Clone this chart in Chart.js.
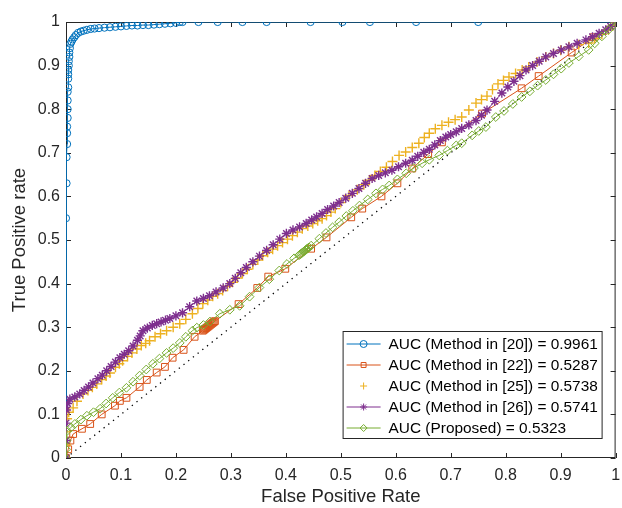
<!DOCTYPE html>
<html lang="en">
<head>
<meta charset="UTF-8">
<title>ROC curves</title>
<script src="https://cdn.jsdelivr.net/npm/chart.js"></script>
<style>
  html, body { margin: 0; padding: 0; background: #fff; }
  #box { width: 622px; height: 508px; }
</style>
</head>
<body>
<div id="box"><canvas id="roc"></canvas></div>
<script>
// legend texts
const seriesNames = [
  'AUC (Method in [20]) = 0.9961',
  'AUC (Method in [22]) = 0.5287',
  'AUC (Method in [25]) = 0.5738',
  'AUC (Method in [26]) = 0.5741',
  'AUC (Proposed) = 0.5323'
];

// Method [20]
const fpr20 = [0, 0, 0.001, 0.001, 0.002, 0.002, 0.002, 0.003, 0.003, 0.003, 0.003, 0.004, 0.004, 0.004, 0.004, 0.005, 0.005,
  0.006, 0.006, 0.007, 0.008, 0.01, 0.012, 0.015, 0.018, 0.022, 0.027, 0.032, 0.038, 0.045, 0.052, 0.06, 0.07, 0.08, 0.09,
  0.1, 0.11, 0.12, 0.13, 0.14, 0.15, 0.16, 0.17, 0.18, 0.19, 0.2, 0.207, 0.212, 0.241, 0.276, 0.321, 0.365, 0.445, 0.503,
  0.553, 0.637, 0.75, 1];
const tpr20 = [0, 0.55, 0.63, 0.69, 0.72, 0.745, 0.76, 0.78, 0.8, 0.82, 0.84, 0.85, 0.87, 0.88, 0.89, 0.9, 0.91,
  0.92, 0.93, 0.94, 0.95, 0.955, 0.96, 0.965, 0.97, 0.975, 0.978, 0.98, 0.982, 0.984, 0.985, 0.986, 0.987, 0.988, 0.989,
  0.99, 0.991, 0.992, 0.992, 0.993, 0.993, 0.994, 0.995, 0.996, 0.997, 0.998, 1, 1, 1, 1, 1, 1, 1, 1,
  1, 1, 1, 1];

// Method [22]
const fpr22 = [0, 0.004, 0.008, 0.013, 0.029, 0.044, 0.065, 0.089, 0.098, 0.11, 0.134, 0.147, 0.165, 0.18, 0.194, 0.214,
  0.234, 0.249, 0.251, 0.253, 0.255, 0.257, 0.259, 0.261, 0.263, 0.265, 0.267, 0.269, 0.271, 0.314, 0.348, 0.368, 0.399,
  0.446, 0.474, 0.519, 0.539, 0.574, 0.603, 0.63, 0.659, 0.684, 0.757, 0.829, 0.86, 0.92, 0.96, 1];
const tpr22 = [0, 0.02, 0.04, 0.055, 0.067, 0.078, 0.1, 0.12, 0.131, 0.138, 0.163, 0.179, 0.196, 0.209, 0.23, 0.248,
  0.278, 0.292, 0.294, 0.296, 0.298, 0.3, 0.302, 0.304, 0.306, 0.308, 0.31, 0.312, 0.314, 0.353, 0.39, 0.416, 0.434,
  0.48, 0.506, 0.552, 0.572, 0.6, 0.63, 0.664, 0.697, 0.724, 0.79, 0.848, 0.876, 0.93, 0.965, 1];

// Method [25]
const fpr25 = [0, 0, 0, 0.002, 0.005, 0.013, 0.02, 0.031, 0.04, 0.048, 0.056, 0.065, 0.073, 0.08, 0.09, 0.097, 0.103,
  0.112, 0.12, 0.129, 0.137, 0.145, 0.152, 0.162, 0.172, 0.183, 0.195, 0.207, 0.218, 0.23, 0.24, 0.249, 0.258, 0.267,
  0.276, 0.285, 0.294, 0.303, 0.312, 0.321, 0.33, 0.34, 0.349, 0.358, 0.367, 0.376, 0.385, 0.394, 0.403, 0.412, 0.421,
  0.43, 0.44, 0.449, 0.458, 0.466, 0.474, 0.482, 0.49, 0.5, 0.515, 0.53, 0.542, 0.552, 0.562, 0.572, 0.583, 0.594, 0.606,
  0.618, 0.63, 0.642, 0.652, 0.661, 0.672, 0.684, 0.696, 0.708, 0.72, 0.733, 0.746, 0.756, 0.766, 0.776, 0.786, 0.796,
  0.806, 0.818, 0.83, 0.842, 0.857, 0.873, 0.887, 0.9, 0.915, 0.933, 0.951, 0.962, 0.975, 0.987, 0.995, 1];
const tpr25 = [0, 0.03, 0.06, 0.09, 0.105, 0.115, 0.13, 0.147, 0.155, 0.162, 0.17, 0.18, 0.188, 0.195, 0.208, 0.216, 0.223,
  0.233, 0.241, 0.25, 0.258, 0.263, 0.269, 0.278, 0.285, 0.292, 0.3, 0.308, 0.318, 0.331, 0.343, 0.354, 0.362, 0.371,
  0.377, 0.384, 0.394, 0.403, 0.413, 0.423, 0.433, 0.444, 0.454, 0.464, 0.472, 0.479, 0.487, 0.494, 0.502, 0.51, 0.518,
  0.526, 0.532, 0.538, 0.544, 0.549, 0.556, 0.564, 0.572, 0.586, 0.602, 0.615, 0.627, 0.637, 0.648, 0.657, 0.667, 0.68, 0.694,
  0.702, 0.712, 0.722, 0.735, 0.745, 0.755, 0.763, 0.77, 0.776, 0.782, 0.798, 0.814, 0.822, 0.83, 0.845, 0.858, 0.866,
  0.874, 0.882, 0.89, 0.897, 0.908, 0.92, 0.928, 0.935, 0.943, 0.948, 0.952, 0.962, 0.972, 0.982, 0.992, 1];

// Method [26]
const fpr26 = [0, 0, 0, 0.001, 0.003, 0.007, 0.016, 0.025, 0.033, 0.041, 0.049, 0.058, 0.066, 0.074, 0.082, 0.09, 0.098,
  0.106, 0.114, 0.122, 0.13, 0.135, 0.14, 0.148, 0.157, 0.165, 0.173, 0.181, 0.189, 0.2, 0.212, 0.225, 0.238, 0.25, 0.261,
  0.273, 0.286, 0.298, 0.308, 0.318, 0.328, 0.34, 0.352, 0.365, 0.377, 0.389, 0.401, 0.413, 0.425, 0.437, 0.447, 0.456,
  0.466, 0.476, 0.487, 0.497, 0.509, 0.521, 0.533, 0.545, 0.557, 0.569, 0.581, 0.593, 0.605, 0.618, 0.63, 0.64, 0.651,
  0.661, 0.671, 0.681, 0.691, 0.7, 0.71, 0.72, 0.733, 0.746, 0.756, 0.766, 0.78, 0.793, 0.804, 0.815, 0.826, 0.837, 0.849,
  0.861, 0.873, 0.887, 0.901, 0.915, 0.93, 0.946, 0.958, 0.97, 0.982, 0.991, 1];
const tpr26 = [0, 0.04, 0.08, 0.11, 0.125, 0.135, 0.14, 0.147, 0.155, 0.163, 0.172, 0.182, 0.19, 0.2, 0.21, 0.22, 0.23,
  0.238, 0.246, 0.257, 0.27, 0.28, 0.292, 0.298, 0.304, 0.308, 0.312, 0.316, 0.32, 0.326, 0.333, 0.347, 0.36, 0.366, 0.372,
  0.381, 0.39, 0.4, 0.412, 0.425, 0.437, 0.45, 0.463, 0.476, 0.489, 0.502, 0.515, 0.523, 0.53, 0.538, 0.546, 0.553,
  0.561, 0.57, 0.578, 0.586, 0.596, 0.607, 0.618, 0.63, 0.641, 0.648, 0.654, 0.66, 0.668, 0.676, 0.683, 0.692, 0.701,
  0.708, 0.718, 0.728, 0.736, 0.742, 0.748, 0.756, 0.764, 0.774, 0.786, 0.798, 0.818, 0.837, 0.851, 0.864, 0.877, 0.89, 0.9,
  0.91, 0.92, 0.928, 0.936, 0.943, 0.951, 0.959, 0.966, 0.974, 0.982, 0.99, 1];

// Proposed
const fprProp = [0, 0, 0.001, 0.002, 0.009, 0.016, 0.027, 0.038, 0.05, 0.062, 0.073, 0.085, 0.097, 0.11, 0.122, 0.134,
  0.146, 0.158, 0.17, 0.183, 0.195, 0.207, 0.218, 0.23, 0.238, 0.25, 0.262, 0.28, 0.298, 0.316, 0.334, 0.352, 0.37, 0.388,
  0.402, 0.415, 0.424, 0.426, 0.428, 0.43, 0.432, 0.434, 0.436, 0.438, 0.44, 0.442, 0.446, 0.461, 0.473, 0.485, 0.497,
  0.51, 0.522, 0.534, 0.549, 0.564, 0.576, 0.588, 0.603, 0.619, 0.633, 0.648, 0.661, 0.679, 0.694, 0.71, 0.72, 0.739,
  0.751, 0.764, 0.782, 0.797, 0.813, 0.829, 0.844, 0.858, 0.873, 0.887, 0.901, 0.915, 0.933, 0.951, 0.962, 0.975, 0.987,
  0.995, 1];
const tprProp = [0, 0.02, 0.04, 0.062, 0.07, 0.078, 0.088, 0.097, 0.105, 0.113, 0.125, 0.138, 0.15, 0.161, 0.175, 0.189,
  0.203, 0.216, 0.228, 0.241, 0.252, 0.264, 0.278, 0.292, 0.299, 0.305, 0.313, 0.331, 0.34, 0.349, 0.37, 0.391, 0.41, 0.43,
  0.445, 0.458, 0.465, 0.467, 0.469, 0.471, 0.473, 0.475, 0.477, 0.479, 0.481, 0.483, 0.487, 0.503, 0.516, 0.529, 0.541,
  0.555, 0.567, 0.579, 0.593, 0.607, 0.616, 0.625, 0.639, 0.653, 0.665, 0.676, 0.684, 0.694, 0.705, 0.717, 0.722, 0.74,
  0.75, 0.759, 0.782, 0.796, 0.812, 0.828, 0.841, 0.854, 0.867, 0.88, 0.893, 0.906, 0.921, 0.936, 0.951, 0.967, 0.982,
  0.992, 1];

// chance line
const chanceX = [0, 1];
const chanceY = [0, 1];

function pts(xs, ys) {
  return xs.map((v, i) => ({ x: v, y: ys[i] }));
}

const fontFam = '"Liberation Sans", Arial, Helvetica, sans-serif';
const axisInk = '#262626';

const datasets = [
  { label: seriesNames[0], data: pts(fpr20, tpr20), borderColor: '#0072BD', pointStyle: 'circle', pointRadius: 3.6,
    showLine: true, order: 5 },
  { label: seriesNames[1], data: pts(fpr22, tpr22), borderColor: '#D95319', pointStyle: 'rect', pointRadius: 4.8,
    showLine: true, order: 4 },
  { label: seriesNames[2], data: pts(fpr25, tpr25), borderColor: '#EDB120', pointStyle: 'cross', pointRadius: 5,
    showLine: false, order: 3 },
  { label: seriesNames[3], data: pts(fpr26, tpr26), borderColor: '#7E2F8E', pointStyle: 'star', pointRadius: 4.6,
    showLine: true, order: 2 },
  { label: seriesNames[4], data: pts(fprProp, tprProp), borderColor: '#77AC30', pointStyle: 'rectRot', pointRadius: 4.4,
    showLine: true, order: 1 }
];
datasets.forEach(d => {
  d.backgroundColor = 'rgba(0,0,0,0)';
  d.pointBorderColor = d.borderColor;
  d.pointBorderWidth = (d.pointStyle === 'star' || d.pointStyle === 'cross') ? 1.4 : 1;
  d.borderWidth = 1;
  d.tension = 0;
});
datasets.push({
  label: 'chance', data: pts(chanceX, chanceY), showLine: true, borderColor: '#000', borderWidth: 1.3,
  borderDash: [1.3, 4.7], pointRadius: 0, order: 6
});

// box + inward ticks (matlab style)
const framePlugin = {
  id: 'frame',
  beforeDatasetsDraw(chart) {
    const { ctx, chartArea: a, scales } = chart;
    ctx.save();
    ctx.strokeStyle = axisInk;
    ctx.lineWidth = 1;
    ctx.strokeRect(a.left + 0.5, a.top + 0.5, a.right - a.left - 1, a.bottom - a.top - 1);
    ctx.beginPath();
    scales.x.ticks.forEach(t => {
      const px = Math.round(scales.x.getPixelForValue(t.value)) + 0.5;
      ctx.moveTo(px, a.bottom); ctx.lineTo(px, a.bottom - 5);
      ctx.moveTo(px, a.top); ctx.lineTo(px, a.top + 5);
    });
    scales.y.ticks.forEach(t => {
      const py = Math.round(scales.y.getPixelForValue(t.value)) + 0.5;
      ctx.moveTo(a.left, py); ctx.lineTo(a.left + 5, py);
      ctx.moveTo(a.right, py); ctx.lineTo(a.right - 5, py);
    });
    ctx.stroke();
    ctx.restore();
  }
};

function drawMarker(ctx, style, x, y, r) {
  ctx.beginPath();
  if (style === 'circle') {
    ctx.arc(x, y, r, 0, Math.PI * 2);
  } else if (style === 'rect') {
    const s = r * Math.SQRT1_2;
    ctx.rect(x - s, y - s, 2 * s, 2 * s);
  } else if (style === 'rectRot') {
    ctx.moveTo(x, y - r); ctx.lineTo(x + r, y); ctx.lineTo(x, y + r); ctx.lineTo(x - r, y); ctx.closePath();
  } else if (style === 'cross') {
    ctx.moveTo(x - r, y); ctx.lineTo(x + r, y); ctx.moveTo(x, y - r); ctx.lineTo(x, y + r);
  } else if (style === 'star') {
    const s = r * Math.SQRT1_2;
    ctx.moveTo(x - r, y); ctx.lineTo(x + r, y); ctx.moveTo(x, y - r); ctx.lineTo(x, y + r);
    ctx.moveTo(x - s, y - s); ctx.lineTo(x + s, y + s); ctx.moveTo(x - s, y + s); ctx.lineTo(x + s, y - s);
  }
  ctx.stroke();
}

// legend in lower right corner, line + marker like matlab
const legendPlugin = {
  id: 'roclegend',
  afterDraw(chart) {
    const { ctx, chartArea: a } = chart;
    const w = 259, h = 107;
    const x0 = a.right - 14 - w, y0 = a.bottom - 20 - h;
    ctx.save();
    ctx.fillStyle = '#fff';
    ctx.fillRect(x0, y0, w, h);
    ctx.strokeStyle = axisInk;
    ctx.lineWidth = 1;
    ctx.strokeRect(x0 + 0.5, y0 + 0.5, w, h);
    ctx.font = '15.4px ' + fontFam;
    ctx.textBaseline = 'middle';
    ctx.textAlign = 'left';
    for (let i = 0; i < 5; i++) {
      const d = chart.data.datasets[i];
      const cy = y0 + 13 + i * 21;
      ctx.strokeStyle = d.borderColor;
      ctx.lineWidth = 1;
      if (d.showLine) {
        ctx.beginPath();
        ctx.moveTo(x0 + 4, cy); ctx.lineTo(x0 + 38, cy);
        ctx.stroke();
      }
      drawMarker(ctx, d.pointStyle, x0 + 21, cy, 3.5);
      ctx.fillStyle = '#000';
      ctx.fillText(d.label, x0 + 46, cy + 1);
    }
    ctx.restore();
  }
};

const tickFmt = v => (Math.abs(v) < 1e-9 ? '0' : Math.abs(v - 1) < 1e-9 ? '1' : v.toFixed(1));

new Chart(document.getElementById('roc'), {
  type: 'scatter',
  data: { datasets: datasets },
  options: {
    responsive: true,
    maintainAspectRatio: false,
    animation: false,
    layout: { padding: { top: 22, right: 5, left: 0, bottom: 0 } },
    plugins: { legend: { display: false }, tooltip: { enabled: false } },
    scales: {
      x: {
        type: 'linear', min: 0, max: 1,
        grid: { display: false, drawTicks: false },
        border: { display: false },
        ticks: { stepSize: 0.1, padding: 8, color: axisInk, font: { family: fontFam, size: 16 }, maxRotation: 0,
          callback: tickFmt },
        title: { display: true, text: 'False Positive Rate', color: axisInk, font: { family: fontFam, size: 18.5 },
          padding: { top: 0, bottom: 0 } },
        afterFit: s => { s.height = 50; s.paddingLeft = 0; s.paddingRight = 0; }
      },
      y: {
        type: 'linear', min: 0, max: 1,
        grid: { display: false, drawTicks: false },
        border: { display: false },
        ticks: { stepSize: 0.1, padding: 6, color: axisInk, font: { family: fontFam, size: 16 }, callback: tickFmt },
        title: { display: true, text: 'True Positive rate', color: axisInk, font: { family: fontFam, size: 18.5 },
          padding: { top: 9, bottom: 0 } },
        afterFit: s => { s.width = 66; s.paddingTop = 0; s.paddingBottom = 0; }
      }
    }
  },
  plugins: [framePlugin, legendPlugin]
});
</script>
</body>
</html>
